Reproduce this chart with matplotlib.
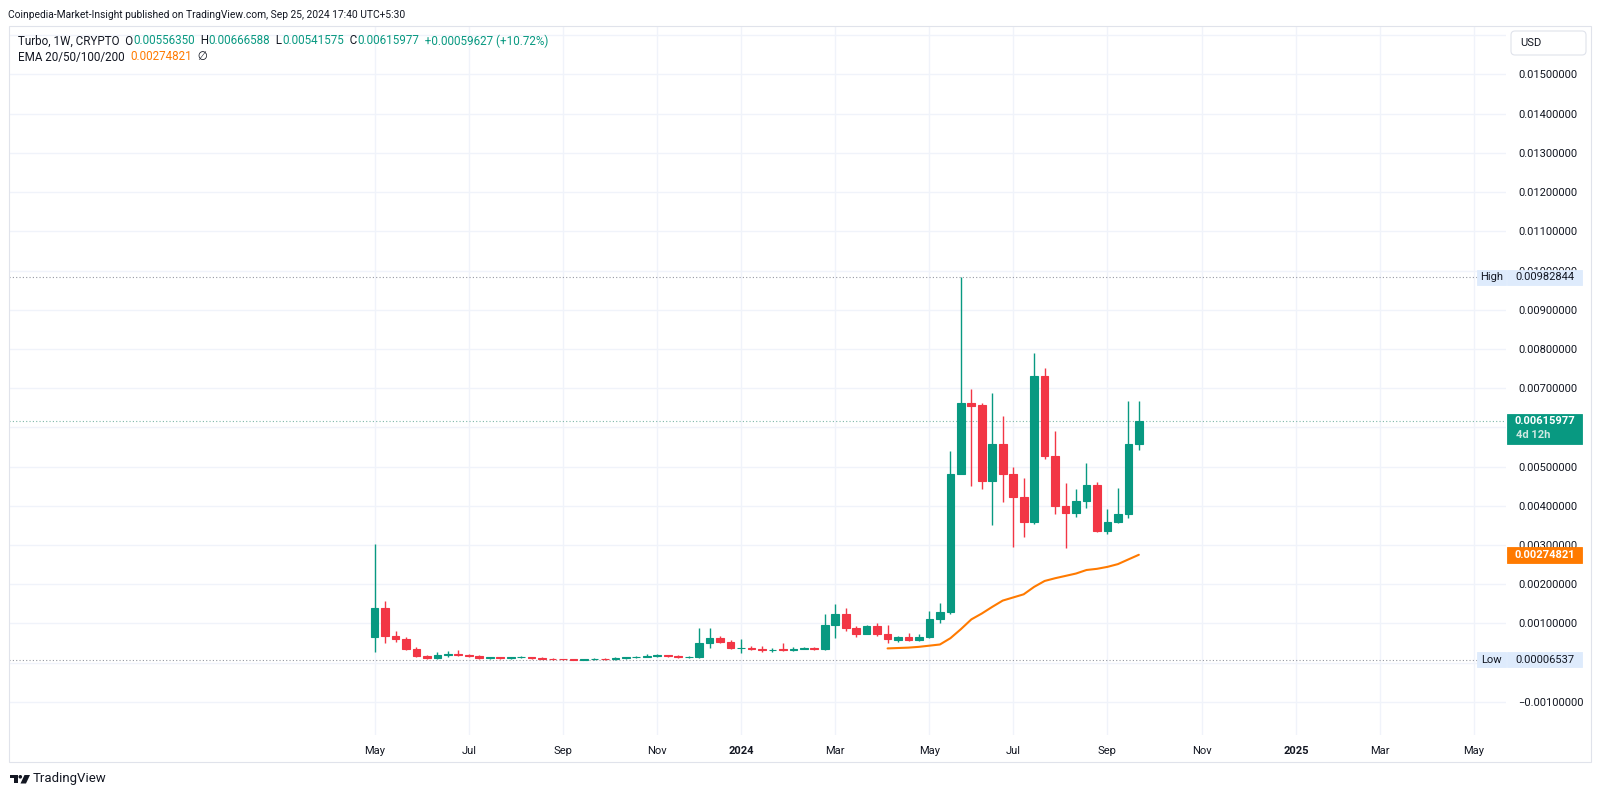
import matplotlib
matplotlib.use('Agg')
import matplotlib.pyplot as plt
import matplotlib.transforms as mtransforms
from matplotlib.patches import Rectangle, FancyBboxPatch, Polygon, Circle
import numpy as np
import pandas as pd

plt.rcParams['font.family'] = ['Roboto', 'DejaVu Sans']

# -------------------------------------------------------------------------------- #
# ------------------------------------- DATA ------------------------------------- #
# -------------------------------------------------------------------------------- #

FIRST_WEEK = '2023-05-01'

opens = [0.00066, 0.00140, 0.00068, 0.00059, 0.00034, 0.00017, 0.00011, 0.00019, 0.00022, 0.00020,
         0.00017, 0.00012, 0.00013, 0.00011, 0.00013, 0.00014, 0.00012, 0.00010, 0.00009, 0.00008,
         0.00007, 0.00008, 0.00009, 0.00008, 0.00012, 0.00013, 0.00014, 0.00017, 0.00019, 0.00016,
         0.00013, 0.00014, 0.00050, 0.00063, 0.00052, 0.00036, 0.00037, 0.00035, 0.00031, 0.00034,
         0.00031, 0.00035, 0.00037, 0.00035, 0.00096, 0.00124, 0.00089, 0.00074, 0.00094, 0.00074,
         0.00058, 0.00064, 0.00058, 0.00066, 0.00110, 0.00128, 0.00482, 0.00663, 0.00658, 0.00464,
         0.00558, 0.00482, 0.00421, 0.00358, 0.00730, 0.00528, 0.00399, 0.00381, 0.00412, 0.00452,
         0.00336, 0.00358, 0.00379, 0.0055635]
highs = [0.00302, 0.00157, 0.00080, 0.00065, 0.00040, 0.00018, 0.00027, 0.00029, 0.00031, 0.00022,
         0.00019, 0.00014, 0.00014, 0.00014, 0.00017, 0.00015, 0.00013, 0.00011, 0.00010, 0.00009,
         0.00010, 0.00011, 0.00011, 0.00014, 0.00014, 0.00016, 0.00022, 0.00022, 0.00020, 0.00019,
         0.00016, 0.00087, 0.00087, 0.00068, 0.00057, 0.00060, 0.00042, 0.00043, 0.00037, 0.00050,
         0.00039, 0.00040, 0.00040, 0.00124, 0.00149, 0.00140, 0.00092, 0.00095, 0.00100, 0.00095,
         0.00068, 0.00075, 0.00072, 0.00131, 0.00151, 0.00540, 0.00982844, 0.00697, 0.00663, 0.00688,
         0.00629, 0.00498, 0.00471, 0.00789, 0.00751, 0.00590, 0.00458, 0.00442, 0.00509, 0.00460,
         0.00392, 0.00445, 0.00668, 0.00666588]
lows = [0.00026, 0.00050, 0.00053, 0.00032, 0.00014, 0.00010, 0.00010, 0.00015, 0.00017, 0.00015,
        0.00010, 0.00009, 0.00010, 0.00010, 0.00011, 0.00010, 0.00008, 0.00007, 0.00006, 0.00006537,
        0.00007, 0.00007, 0.00007, 0.00007, 0.00010, 0.00011, 0.00013, 0.00015, 0.00014, 0.00012,
        0.00012, 0.00012, 0.00038, 0.00050, 0.00035, 0.00025, 0.00032, 0.00028, 0.00027, 0.00030,
        0.00030, 0.00034, 0.00033, 0.00033, 0.00063, 0.00081, 0.00066, 0.00074, 0.00068, 0.00049,
        0.00052, 0.00056, 0.00055, 0.00063, 0.00100, 0.00123, 0.00480, 0.00451, 0.00442, 0.00351,
        0.00409, 0.00295, 0.00321, 0.00353, 0.00519, 0.00378, 0.00291, 0.00372, 0.00393, 0.00334,
        0.00328, 0.00355, 0.00369, 0.00541575]
closes = [0.00140, 0.00068, 0.00059, 0.00034, 0.00017, 0.00011, 0.00019, 0.00022, 0.00020, 0.00017,
          0.00012, 0.00013, 0.00011, 0.00013, 0.00014, 0.00011, 0.00010, 0.00009, 0.00008, 0.00007,
          0.00008, 0.00009, 0.00008, 0.00012, 0.00013, 0.00014, 0.00017, 0.00019, 0.00016, 0.00013,
          0.00014, 0.00050, 0.00063, 0.00052, 0.00036, 0.00037, 0.00034, 0.00031, 0.00033, 0.00031,
          0.00035, 0.00037, 0.00035, 0.00096, 0.00124, 0.00089, 0.00074, 0.00094, 0.00074, 0.00059,
          0.00064, 0.00058, 0.00066, 0.00110, 0.00128, 0.00482, 0.00663, 0.00655, 0.00464, 0.00558,
          0.00482, 0.00421, 0.00358, 0.00730, 0.00528, 0.00399, 0.00381, 0.00412, 0.00452, 0.00336,
          0.00358, 0.00379, 0.0055635, 0.00615977]

# EMA line starts at week index 49
EMA_START = 49
ema = [0.00036, 0.00037, 0.00038, 0.00040, 0.00043, 0.00046, 0.00062, 0.00085, 0.00110, 0.00125,
       0.00142, 0.00158, 0.00166, 0.00174, 0.00193, 0.00208, 0.00215, 0.00221, 0.00227, 0.00236,
       0.00239, 0.00244, 0.00251, 0.00263, 0.00274821]

tick_dates = ['2023-05-01', '2023-07-03', '2023-09-04', '2023-11-06', '2024-01-01', '2024-03-04',
              '2024-05-06', '2024-07-01', '2024-09-02', '2024-11-04', '2025-01-06', '2025-03-03',
              '2025-05-05']
tick_labels = ['May', 'Jul', 'Sep', 'Nov', '2024', 'Mar', 'May', 'Jul', 'Sep', 'Nov', '2025', 'Mar', 'May']

price_ticks = np.arange(-0.001, 0.0161, 0.001)
# labels hidden behind the USD box / price badges
hidden_ticks = [0.016, 0.006, 0.0]

HIGH_VAL = 0.00982844
LOW_VAL = 0.00006537
LAST_VAL = 0.00615977
EMA_VAL = 0.00274821

GREEN = '#089981'
RED = '#f23645'
ORANGE = '#ff7a00'
TXT = '#131722'
GRID = '#f0f3fa'
BORDER = '#e0e3eb'

# -------------------------------------------------------------------------------- #
# ------------------------------------ LAYOUT ------------------------------------ #
# -------------------------------------------------------------------------------- #
W, H = 1600, 797
PLOT_L, PLOT_R, PLOT_T, PLOT_B = 9, 1506, 26, 735

fig = plt.figure(figsize=(W / 100, H / 100), dpi=100)
fig.patch.set_facecolor('white')
ax = fig.add_axes([PLOT_L / W, 1 - PLOT_B / H, (PLOT_R - PLOT_L) / W, (PLOT_B - PLOT_T) / H])

# pixel coordinates (top-down) on the figure
fig_px = mtransforms.Affine2D().scale(1 / W, -1 / H).translate(0, 1) + fig.transFigure

weeks = pd.date_range(FIRST_WEEK, periods=len(opens), freq='W-MON')
o = np.array(opens)
h = np.array(highs)
l = np.array(lows)
c = np.array(closes)
up = c >= o
colors = np.where(up, GREEN, RED)

# wicks
ax.vlines(weeks, l, h, colors=colors, linewidth=1.0, zorder=3)
# bodies
body_lo = np.minimum(o, c)
body_h = np.abs(c - o)
ax.bar(weeks, body_h, width=5.15, bottom=body_lo, color=colors, edgecolor=colors,
       linewidth=0.8, zorder=4)

# EMA
ax.plot(weeks[EMA_START:EMA_START + len(ema)], ema, color=ORANGE, linewidth=1.5,
        solid_capstyle='round', zorder=5)

# limits
first = weeks[0]
ax.set_xlim(first - pd.Timedelta(weeks=34.92), first + pd.Timedelta(weeks=108.07))
ax.set_ylim(-0.001849, 0.016237)


def price_fmt(v, p):
    if any(abs(v - t) < 1e-9 for t in hidden_ticks):
        return ''
    if v < -1e-12:
        return '\u2212%.8f' % abs(v)
    return '%.8f' % abs(v)


# grid + ticks
ax.set_yticks(price_ticks)
ax.yaxis.tick_right()
ax.yaxis.set_major_formatter(matplotlib.ticker.FuncFormatter(price_fmt))
ax.tick_params(axis='y', length=0, pad=9, labelsize=8, labelcolor=TXT)
ax.set_xticks(pd.to_datetime(tick_dates))
ax.set_xticklabels(tick_labels)
for lab in ax.get_xticklabels():
    if lab.get_text().isdigit():
        lab.set_fontweight('bold')
ax.tick_params(axis='x', length=0, pad=8, labelsize=8, labelcolor=TXT)
ax.grid(True, color=GRID, linewidth=1.0, zorder=0)
ax.set_axisbelow(True)
for s in ax.spines.values():
    s.set_visible(False)

# dotted high / low / last lines (high/low stop at their badge)
x0, x1 = ax.get_xlim()
x_badge = x1 - (PLOT_R - 1477) / (PLOT_R - PLOT_L) * (x1 - x0)
ax.hlines(HIGH_VAL, x0, x_badge, colors='#9598a1', linestyles=(0, (1, 2)), linewidth=0.8, zorder=2)
ax.hlines(LOW_VAL, x0, x_badge, colors='#9598a1', linestyles=(0, (1, 2)), linewidth=0.8, zorder=2)
ax.axhline(LAST_VAL, color='#7fb7a9', linestyle=(0, (1, 2)), linewidth=0.8, zorder=2)


def vy(v):
    return H - ax.transData.transform((0, v))[1]


def box(x0, x1, yc, hgt, fc, ec=None):
    r = Rectangle((x0, yc - hgt / 2), x1 - x0, hgt, transform=fig_px, facecolor=fc,
                  edgecolor=ec if ec else fc, linewidth=0.6, zorder=10)
    fig.add_artist(r)


def ftext(x, y, s, **kw):
    kw.setdefault('fontsize', 8)
    kw.setdefault('color', TXT)
    kw.setdefault('va', 'center')
    return fig.text(x, y, s, transform=fig_px, zorder=11, **kw)


# axis value labels
BLUE_BOX = '#deebfc'
yh = vy(HIGH_VAL)
box(1477, 1506, yh, 15, BLUE_BOX)
box(1507, 1582, yh, 15, BLUE_BOX)
ftext(1491.5, yh, 'High', ha='center')
ftext(1544.5, yh, '%.8f' % HIGH_VAL, ha='center')

ylo = vy(LOW_VAL)
box(1477, 1506, ylo, 15, BLUE_BOX)
box(1507, 1582, ylo, 15, BLUE_BOX)
ftext(1491.5, ylo, 'Low', ha='center')
ftext(1544.5, ylo, '%.8f' % LOW_VAL, ha='center')

ylast = vy(LAST_VAL)
box(1507, 1582, ylast + 7.5, 30, GREEN)
ftext(1544.5, ylast, '%.8f' % LAST_VAL, ha='center', color='white', fontweight='bold')
ftext(1516, ylast + 14, '4d 12h', ha='left', color='#cfe9e3', fontweight='bold')

yema = vy(EMA_VAL)
box(1507, 1582, yema, 16, ORANGE)
ftext(1544.5, yema, '%.8f' % EMA_VAL, ha='center', color='white', fontweight='bold')

# USD box
usd = FancyBboxPatch((1511, 31), 75, 24, boxstyle='round,pad=0,rounding_size=4', transform=fig_px,
                     facecolor='white', edgecolor=BORDER, linewidth=0.8, zorder=10)
fig.add_artist(usd)
ftext(1520, 43, 'USD', ha='left')

# outer frame
fig.add_artist(Rectangle((9, 26), 1582, 736, transform=fig_px, facecolor='none',
                         edgecolor=BORDER, linewidth=0.8, zorder=9))

# header
ftext(8, 15, 'Coinpedia-Market-Insight published on TradingView.com, Sep 25, 2024 17:40 UTC+5:30',
      fontsize=7.4)

# legend lines (multi-coloured)
renderer = fig.canvas.get_renderer()


def line_of(x, y, parts):
    for s, col in parts:
        t = ftext(x, y, s, ha='left', color=col, fontsize=8.4)
        bb = t.get_window_extent(renderer)
        x += bb.width
    return x


line_of(18, 41, [('Turbo, 1W, CRYPTO  O', TXT), ('0.00556350', GREEN), ('  H', TXT), ('0.00666588', GREEN),
                 ('  L', TXT), ('0.00541575', GREEN), ('  C', TXT), ('0.00615977', GREEN),
                 ('  +0.00059627 (+10.72%)', GREEN)])
line_of(18, 57, [('EMA 20/50/100/200  ', TXT), ('0.00274821', ORANGE), ('  \u2205', TXT)])

# TradingView logo
fig.add_artist(Polygon([(9.5, 775), (17.5, 775), (17.5, 783.5), (13.5, 783.5), (13.5, 778.5), (9.5, 778.5)],
                       closed=True, transform=fig_px, facecolor=TXT, edgecolor='none', zorder=11))
fig.add_artist(Circle((20.3, 776.8), 1.8, transform=fig_px, facecolor=TXT, edgecolor='none', zorder=11))
fig.add_artist(Polygon([(24.5, 775), (30, 775), (26, 783.5), (20.5, 783.5)],
                       closed=True, transform=fig_px, facecolor=TXT, edgecolor='none', zorder=11))
ftext(33, 779, 'TradingView', ha='left', fontsize=9.5)

fig.savefig('out.png', dpi=100)
